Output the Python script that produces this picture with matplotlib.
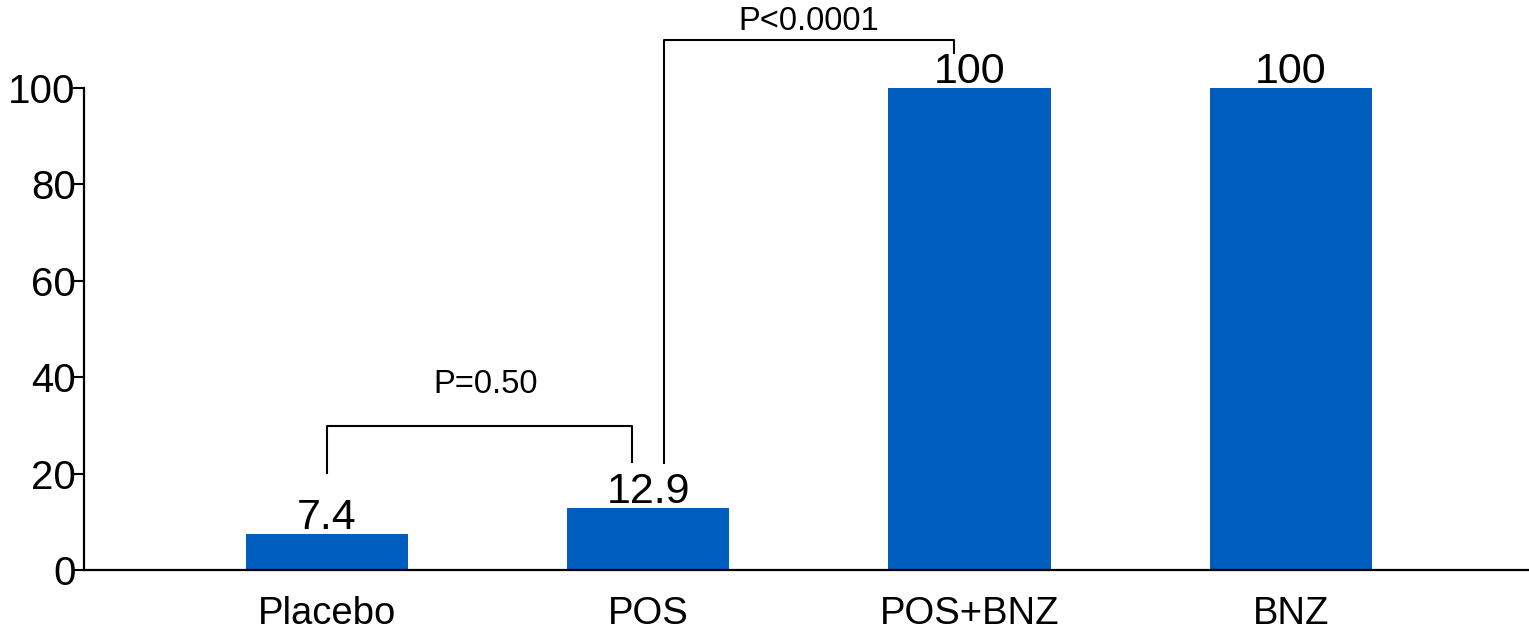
import matplotlib
matplotlib.use("Agg")
import matplotlib.pyplot as plt

categories = ["Placebo", "POS", "POS+BNZ", "BNZ"]
values = [7.4, 12.9, 100, 100]
value_labels = ["7.4", "12.9", "100", "100"]
yticks = [0, 20, 40, 60, 80, 100]

plt.rcParams['font.family'] = ['Liberation Sans', 'DejaVu Sans']

fig = plt.figure(figsize=(15.29, 6.32), dpi=100)
ax = fig.add_axes([84/1529, 62/632, 1 - 84/1529, (570-88)/632])

x = list(range(len(categories)))
ax.bar(x, values, width=0.505, color="#005EBF", zorder=2)

for xi, v, lab in zip(x, values, value_labels):
    ax.text(xi, v - 0.8, lab, ha="center", va="bottom", fontsize=31, color="black")

ax.set_xlim(-0.756, 3.741)
ax.set_ylim(0, 100)
ax.set_yticks(yticks)
ax.set_yticklabels([str(t) for t in yticks], fontsize=29)
ax.set_xticks(x)
ax.set_xticklabels(categories, fontsize=27.5)
ax.tick_params(axis="x", length=0, pad=19)
ax.tick_params(axis="y", length=8, width=1.5, pad=-2)

for s in ["top", "right"]:
    ax.spines[s].set_visible(False)
for s in ["left", "bottom"]:
    ax.spines[s].set_linewidth(1.6)

lw = 1.5
# P=0.50 bracket
ax.plot([0, 0, 0.95, 0.95], [20.1, 29.9, 29.9, 22.4], color="black", lw=lw, clip_on=False)
ax.text(0.495, 38.4, "P=0.50", ha="center", va="center", fontsize=23.5)
# P<0.0001 bracket
ax.plot([1.05, 1.05, 1.95, 1.95], [22.2, 110, 110, 107.3], color="black", lw=lw, clip_on=False)
ax.text(1.5, 113.7, "P<0.0001", ha="center", va="center", fontsize=23.5)

fig.savefig("out.png", dpi=100)
